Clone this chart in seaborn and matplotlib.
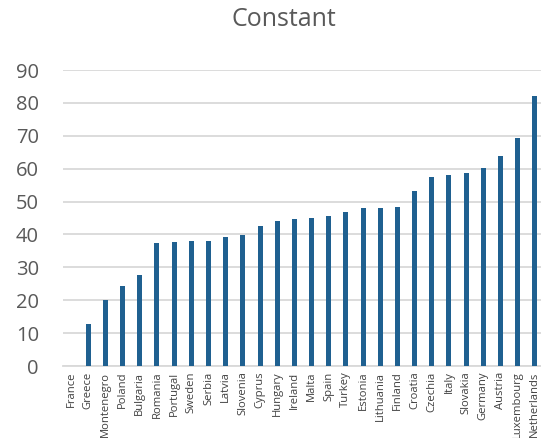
import matplotlib
matplotlib.use("Agg")
import matplotlib.pyplot as plt
import seaborn as sns
import pandas as pd

countries = ["France", "Greece", "Montenegro", "Poland", "Bulgaria", "Romania",
             "Portugal", "Sweden", "Serbia", "Latvia", "Slovenia", "Cyprus",
             "Hungary", "Ireland", "Malta", "Spain", "Turkey", "Estonia",
             "Lithuania", "Finland", "Croatia", "Czechia", "Italy", "Slovakia",
             "Germany", "Austria", "Luxembourg", "Netherlands"]
values = [0.0, 12.8, 20.1, 24.2, 27.8, 37.4, 37.8, 37.9, 38.0, 39.1, 39.9, 42.6,
          44.0, 44.6, 44.9, 45.6, 46.9, 48.1, 48.1, 48.3, 53.2, 57.5, 58.1, 58.6,
          60.2, 63.7, 69.2, 82.2]
yticks = [0, 10, 20, 30, 40, 50, 60, 70, 80, 90]
title = "Constant"

df = pd.DataFrame({"country": countries, "value": values})

sns.set_theme(style="white")
plt.rcParams["font.family"] = ["Open Sans", "DejaVu Sans"]

fig = plt.figure(figsize=(5.41, 4.38), dpi=100)
ax = fig.add_axes([62.5 / 541, 72 / 438, (543.4 - 62.5) / 541, 296 / 438])

sns.barplot(data=df, x="country", y="value", color="#1F6090", width=0.29,
            saturation=1, linewidth=0, ax=ax, zorder=3)

ax.set_ylim(0, 90)
ax.set_xlim(-0.5, len(countries) - 0.5)
ax.set_yticks(yticks)
ax.set_yticklabels([str(v) for v in yticks], fontsize=14.5, color="#595959")
ax.tick_params(axis="y", length=0, pad=17)
ax.tick_params(axis="x", length=0, pad=4)
ax.set_xticks(range(len(countries)))
ax.set_xticklabels(countries, rotation=90, fontsize=8.1, color="#404040")
ax.grid(axis="y", color="#D9D9D9", linewidth=1.3, zorder=0)
ax.set_axisbelow(True)
for s in ["top", "right", "left"]:
    ax.spines[s].set_visible(False)
ax.spines["bottom"].set_color("#D9D9D9")
ax.spines["bottom"].set_linewidth(1.3)
ax.set_xlabel("")
ax.set_ylabel("")
fig.text(284 / 541, 1 - 20 / 438, title, fontsize=18, color="#595959",
         ha="center", va="center")

fig.savefig("out.png", dpi=100)
